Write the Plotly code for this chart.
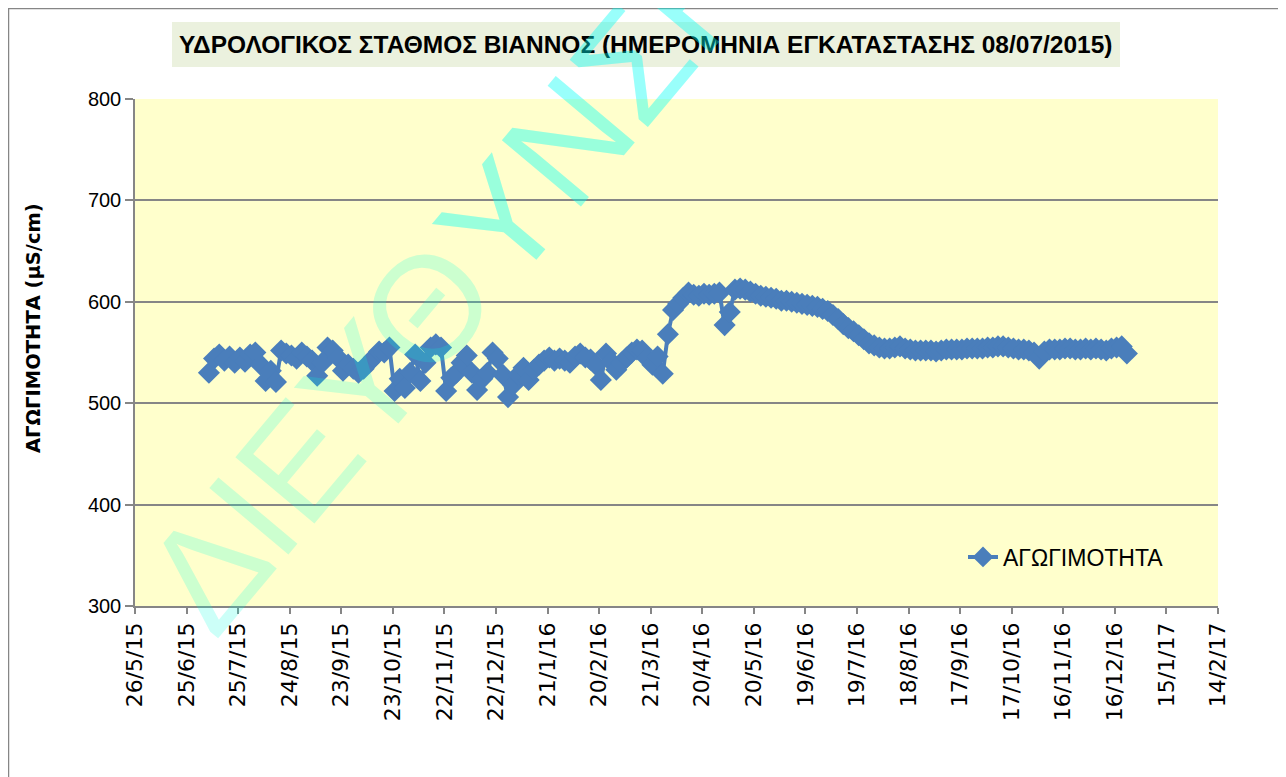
import plotly.graph_objects as go
import pandas as pd

# ---- data ----
start_date = "2015-07-08"   # installation date, sampled every 3 days
step_days = 3
conductivity = [
    530, 544, 548, 542, 546, 540, 545, 541, 548, 550,
    538, 522, 532, 521, 552, 549, 547, 544, 550, 546,
    542, 527, 540, 555, 552, 545, 532, 538, 534, 530,
    534, 540, 545, 551, 550, 555, 512, 524, 515, 530,
    548, 522, 540, 555, 558, 555, 512, 525, 530, 540,
    547, 530, 513, 524, 530, 550, 544, 528, 506, 518,
    528, 535, 523, 533, 538, 542, 545, 542, 544, 542,
    540, 546, 549, 545, 543, 538, 523, 549, 541, 533,
    540, 545, 550, 553, 552, 544, 538, 546, 529, 568,
    592, 598, 604, 609, 607, 606, 608, 607, 608, 609,
    577, 590, 612, 613, 612, 610, 608, 606, 605, 604,
    603, 601, 601, 600, 599, 598, 597, 596, 595, 593,
    591, 587, 583, 578, 574, 571, 567, 563, 559, 557,
    555, 554, 554, 555, 556, 554, 553, 552, 552, 552,
    552, 551, 552, 553, 553, 553, 553, 554, 554, 554,
    554, 555, 555, 556, 556, 555, 554, 553, 553, 552,
    550, 544, 551, 553, 553, 553, 554, 554, 553, 553,
    554, 553, 554, 553, 552, 554, 555, 556, 549,
]
dates = pd.date_range(start_date, periods=len(conductivity), freq=f"{step_days}D")

tick_dates = ["2015-05-26", "2015-06-25", "2015-07-25", "2015-08-24", "2015-09-23",
              "2015-10-23", "2015-11-22", "2015-12-22", "2016-01-21", "2016-02-20",
              "2016-03-21", "2016-04-20", "2016-05-20", "2016-06-19", "2016-07-19",
              "2016-08-18", "2016-09-17", "2016-10-17", "2016-11-16", "2016-12-16",
              "2017-01-15", "2017-02-14"]
tick_labels = ["26/5/15", "25/6/15", "25/7/15", "24/8/15", "23/9/15", "23/10/15",
               "22/11/15", "22/12/15", "21/1/16", "20/2/16", "21/3/16", "20/4/16",
               "20/5/16", "19/6/16", "19/7/16", "18/8/16", "17/9/16", "17/10/16",
               "16/11/16", "16/12/16", "15/1/17", "14/2/17"]
y_ticks = [300, 400, 500, 600, 700, 800]

title_text = "ΥΔΡΟΛΟΓΙΚΟΣ ΣΤΑΘΜΟΣ ΒΙΑΝΝΟΣ (ΗΜΕΡΟΜΗΝΙΑ ΕΓΚΑΤΑΣΤΑΣΗΣ 08/07/2015)"
series_name = "ΑΓΩΓΙΜΟΤΗΤΑ"
y_title = "ΑΓΩΓΙΜΟΤΗΤΑ (μS/cm)"
watermark_a = "ΔΙΕΥΘ"
watermark_b = "ΥΝΣΗ"

# ---- figure (page body adds an 8px offset) ----
OFF = 8
W, H = 1278, 769
L, R, T, B = 127, 68, 91, 171
pw, ph = W - L - R, H - T - B

def fx(sx):
    return (sx - OFF - L) / pw

def fy(sy):
    return (H - B - (sy - OFF)) / ph

blue = "#4A7EBB"
fig = go.Figure()
fig.add_trace(go.Scatter(
    x=dates, y=conductivity, mode="lines+markers", name=series_name,
    line=dict(color=blue, width=4),
    marker=dict(symbol="diamond", size=17, color=blue, line=dict(width=0)),
))

narrow = "Liberation Sans Narrow, Arial Narrow, sans-serif"
fig.update_layout(
    width=W, height=H,
    margin=dict(l=L, r=R, t=T, b=B, pad=0),
    paper_bgcolor="white",
    plot_bgcolor="#FFFFCC",
    showlegend=True,
    legend=dict(x=fx(963), y=fy(557), xanchor="left", yanchor="middle",
                bgcolor="rgba(0,0,0,0)",
                font=dict(family=narrow, size=23, color="black")),
    xaxis=dict(
        type="date", range=[tick_dates[0], tick_dates[-1]],
        tickmode="array", tickvals=tick_dates, ticktext=tick_labels,
        tickangle=-90, ticks="outside", ticklen=6, tickcolor="#868686", tickwidth=1.5,
        showline=True, linecolor="#868686", linewidth=1.5,
        showgrid=False, zeroline=False,
        tickfont=dict(family="DejaVu Sans, sans-serif", size=22, color="black"),
    ),
    yaxis=dict(
        range=[300, 800], tickmode="array", tickvals=y_ticks,
        ticks="outside", ticklen=8, tickcolor="#868686", tickwidth=1.5,
        showline=True, linecolor="#868686", linewidth=1.5,
        showgrid=True, gridcolor="#868686", gridwidth=2, zeroline=False,
        tickfont=dict(family=narrow, size=20, color="black"),
    ),
    shapes=[
        dict(type="rect", xref="paper", yref="paper",
             x0=fx(8.5), x1=fx(1400), y0=fy(900), y1=fy(8.5),
             line=dict(color="#868686", width=1.5), fillcolor="rgba(0,0,0,0)", layer="below"),
        dict(type="rect", xref="paper", yref="paper",
             x0=fx(172), x1=fx(1120), y0=fy(67), y1=fy(22),
             line=dict(width=0), fillcolor="#EBF1DE", layer="below"),
    ],
    annotations=[
        dict(text=f"<b>{title_text}</b>", xref="paper", yref="paper",
             x=fx(646), y=fy(45), xanchor="center", yanchor="middle", showarrow=False,
             font=dict(family=narrow, size=24.5, color="black")),
        dict(text=f"<b>{y_title}</b>", xref="paper", yref="paper",
             x=fx(33), y=fy(328), xanchor="center", yanchor="middle", showarrow=False,
             textangle=-90,
             font=dict(family="DejaVu Sans, sans-serif", size=19.5, color="black")),
        dict(text=watermark_a, xref="paper", yref="paper",
             x=fx(320), y=fy(436), xanchor="center", yanchor="middle", showarrow=False,
             textangle=-50,
             font=dict(family="Liberation Sans, Arial, sans-serif", size=150,
                       color="rgba(0,255,220,0.2)")),
        dict(text=watermark_b, xref="paper", yref="paper",
             x=fx(600), y=fy(103), xanchor="center", yanchor="middle", showarrow=False,
             textangle=-50,
             font=dict(family="Liberation Sans, Arial, sans-serif", size=150,
                       color="rgba(0,255,245,0.4)")),
    ],
)

fig.write_html("out.html")
